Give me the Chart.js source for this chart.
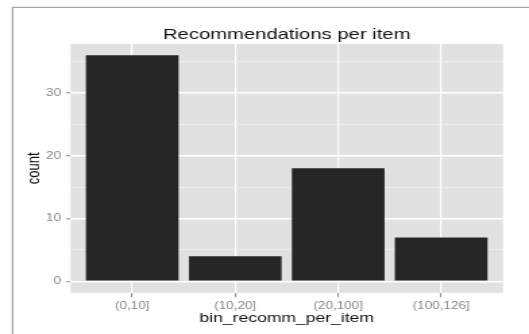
<!DOCTYPE html>
<html>
<head>
<meta charset="utf-8">
<script src="https://cdn.jsdelivr.net/npm/chart.js@4"></script>
<style>
  html, body { margin: 0; padding: 0; background: #fff; overflow: hidden; }
  /* the plot is laid out on a narrower canvas and widened to the page */
  #wrap { width: 392px; height: 334px; transform: scaleX(1.3495); transform-origin: 0 0; }
  #c { width: 392px; height: 334px; display: block; }
</style>
</head>
<body>
<div id="wrap"><canvas id="c" width="392" height="334"></canvas></div>
<script>
// bins and their counts
const categories = ['(0,10]', '(10,20]', '(20,100]', '(100,126]'];
const counts = [36, 4, 18, 7];

// y gridline positions (majors get labels)
const yTicks = [0, 5, 10, 15, 20, 25, 30, 35];
const yLabels = [0, 10, 20, 30];

const GREY_PANEL = '#e1e1e1';
const GREY_TEXT = '#868686';

// grey panel behind the grid plus the outer frame lines
const panelPlugin = {
  id: 'panel',
  beforeDraw(chart) {
    const { ctx, chartArea: a } = chart;
    ctx.save();
    ctx.fillStyle = GREY_PANEL;
    ctx.fillRect(a.left, a.top, a.right - a.left, a.bottom - a.top);
    ctx.strokeStyle = '#8c8c8c';
    ctx.lineWidth = 1;
    ctx.beginPath();
    ctx.moveTo(9.3, chart.height);
    ctx.lineTo(9.3, 7.3);
    ctx.lineTo(chart.width, 7.3);
    ctx.stroke();
    ctx.restore();
  }
};

Chart.defaults.font.family = "'Liberation Sans', Arial, Helvetica, sans-serif";

new Chart(document.getElementById('c'), {
  type: 'bar',
  data: {
    datasets: [{
      data: categories.map((c, i) => ({ x: i + 1, y: counts[i] })),
      backgroundColor: '#262626',
      borderWidth: 0,
      barPercentage: 0.9,
      categoryPercentage: 1.0
    }]
  },
  options: {
    responsive: false,
    animation: false,
    devicePixelRatio: 1,
    layout: { padding: { left: 0, right: 19.3, top: 0, bottom: 0 } },
    plugins: {
      legend: { display: false },
      tooltip: { enabled: false },
      title: {
        display: true,
        fullSize: false,
        text: 'Recommendations per item',
        color: '#111',
        font: { size: 15, weight: 'normal' },
        padding: { top: 26, bottom: 0 }
      }
    },
    scales: {
      x: {
        type: 'linear',
        min: 0.4,
        max: 4.6,
        offset: false,
        afterBuildTicks: s => { s.ticks = categories.map((c, i) => ({ value: i + 1 })); },
        afterFit: s => { s.height = 41.3; },
        border: { display: false },
        grid: {
          offset: false,
          color: '#ffffff',
          lineWidth: 1.2,
          tickColor: GREY_TEXT,
          tickLength: 4.5,
          tickWidth: 1
        },
        ticks: {
          color: GREY_TEXT,
          font: { size: 10 },
          padding: 3.5,
          maxRotation: 0,
          autoSkip: false,
          callback: v => categories[Math.round(v) - 1] ?? ''
        },
        title: {
          display: true,
          text: 'bin_recomm_per_item',
          color: '#111',
          font: { size: 13 },
          padding: { top: 0, bottom: 8 }
        }
      },
      y: {
        type: 'linear',
        min: -1.8,
        max: 37.8,
        afterBuildTicks: s => { s.ticks = yTicks.map(v => ({ value: v })); },
        afterFit: s => { s.width = 52.2; },
        border: { display: false },
        grid: {
          color: c => (yLabels.includes(c.tick.value) ? '#ffffff' : '#efefef'),
          lineWidth: c => (yLabels.includes(c.tick.value) ? 1.6 : 0.8),
          tickColor: c => (yLabels.includes(c.tick.value) ? GREY_TEXT : 'rgba(0,0,0,0)'),
          tickLength: 3.3,
          tickWidth: 1
        },
        ticks: {
          color: GREY_TEXT,
          font: { size: 10 },
          padding: 3.7,
          callback: v => (yLabels.includes(v) ? String(v) : '')
        },
        title: {
          display: true,
          text: 'count',
          color: '#111',
          font: { size: 13 },
          padding: { top: 17.3, bottom: 0 }
        }
      }
    }
  },
  plugins: [panelPlugin]
});
</script>
</body>
</html>
